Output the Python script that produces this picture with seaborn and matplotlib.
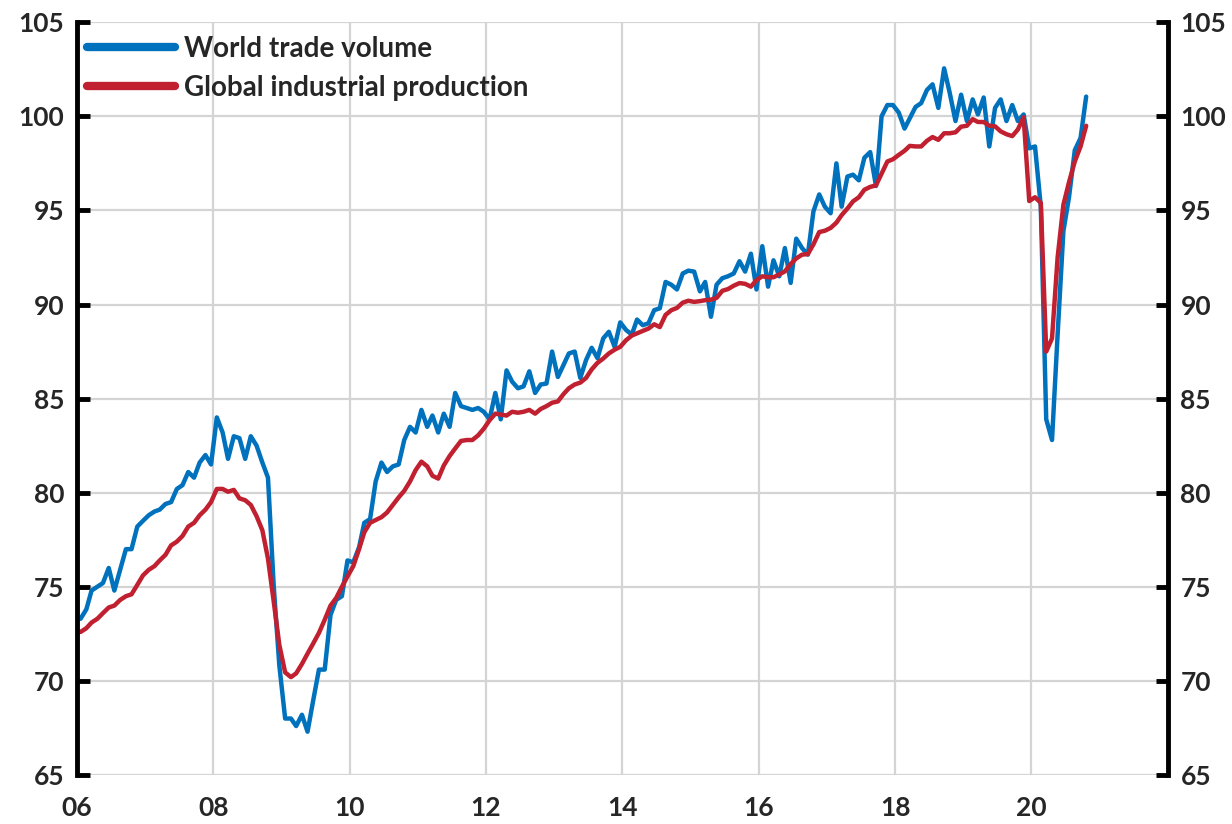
import pandas as pd
import matplotlib.pyplot as plt
import matplotlib.dates as mdates
from matplotlib.lines import Line2D
import seaborn as sns

# Monthly index levels, Jan 2006 - Oct 2020 (one row per year)
trade_volume = [
    73.3, 73.8, 74.8, 75.0, 75.2, 76.0, 74.8, 75.9, 77.0, 77.0, 78.2, 78.5,
    78.8, 79.0, 79.1, 79.4, 79.5, 80.2, 80.4, 81.1, 80.8, 81.6, 82.0, 81.5,
    84.0, 83.2, 81.8, 83.0, 82.9, 81.8, 83.0, 82.5, 81.6, 80.8, 75.0, 70.8,
    68.0, 68.0, 67.6, 68.2, 67.3, 69.0, 70.6, 70.6, 73.5, 74.3, 74.5, 76.4,
    76.3, 77.1, 78.4, 78.6, 80.6, 81.6, 81.1, 81.4, 81.5, 82.8, 83.5, 83.2,
    84.4, 83.5, 84.1, 83.2, 84.2, 83.5, 85.3, 84.6, 84.5, 84.4, 84.5, 84.3,
    83.9, 85.3, 83.9, 86.5, 85.9, 85.55, 85.65, 86.45, 85.3, 85.75, 85.8, 87.5,
    86.15, 86.8, 87.4, 87.5, 86.1, 87.05, 87.7, 87.15, 88.2, 88.55, 87.75, 89.05,
    88.65, 88.4, 89.2, 88.9, 89.0, 89.7, 89.8, 91.2, 91.05, 90.8, 91.65, 91.8,
    91.75, 90.7, 91.2, 89.35, 91.05, 91.4, 91.5, 91.65, 92.3, 91.75, 92.7, 90.8,
    93.1, 90.95, 92.35, 91.5, 93.0, 91.15, 93.5, 93.0, 92.65, 94.95, 95.85, 95.2,
    94.85, 97.5, 95.2, 96.8, 96.9, 96.6, 97.8, 98.1, 96.3, 100.0, 100.6, 100.6,
    100.2, 99.35, 99.9, 100.5, 100.7, 101.4, 101.7, 100.45, 102.55, 101.25, 99.75, 101.15,
    99.75, 100.9, 100.1, 101.0, 98.4, 100.45, 100.9, 99.75, 100.6, 99.75, 100.1, 98.3,
    98.4, 95.2, 83.9, 82.8, 88.4, 93.9, 95.7, 98.2, 98.85, 101.05,
]

industrial_production = [
    72.6, 72.8, 73.1, 73.3, 73.6, 73.9, 74.0, 74.3, 74.5, 74.6, 75.1, 75.6,
    75.9, 76.1, 76.4, 76.7, 77.2, 77.4, 77.7, 78.2, 78.4, 78.8, 79.1, 79.5,
    80.2, 80.2, 80.05, 80.15, 79.7, 79.6, 79.35, 78.75, 78.0, 76.5, 74.2, 71.9,
    70.45, 70.2, 70.4, 70.9, 71.45, 72.0, 72.55, 73.25, 74.0, 74.4, 75.0, 75.55,
    76.1, 77.0, 77.9, 78.4, 78.55, 78.7, 78.95, 79.35, 79.75, 80.1, 80.6, 81.2,
    81.65, 81.4, 80.9, 80.75, 81.45, 81.95, 82.35, 82.75, 82.8, 82.8, 83.05, 83.4,
    83.85, 84.2, 84.15, 84.1, 84.3, 84.25, 84.3, 84.4, 84.2, 84.45, 84.6, 84.78,
    84.85, 85.25, 85.55, 85.75, 85.85, 86.1, 86.55, 86.9, 87.13, 87.4, 87.6, 87.75,
    88.1, 88.35, 88.47, 88.6, 88.72, 88.95, 88.8, 89.45, 89.7, 89.82, 90.1, 90.2,
    90.14, 90.18, 90.23, 90.26, 90.35, 90.73, 90.82, 91.0, 91.14, 91.1, 90.95, 91.3,
    91.5, 91.45, 91.45, 91.6, 91.76, 92.15, 92.45, 92.65, 92.68, 93.2, 93.85, 93.92,
    94.07, 94.35, 94.75, 95.1, 95.48, 95.7, 96.1, 96.25, 96.33, 96.95, 97.6, 97.72,
    97.95, 98.17, 98.43, 98.4, 98.4, 98.7, 98.9, 98.75, 99.1, 99.1, 99.15, 99.45,
    99.5, 99.85, 99.7, 99.7, 99.5, 99.47, 99.2, 99.05, 98.95, 99.3, 99.95, 95.5,
    95.7, 95.4, 87.5, 88.2, 92.5, 95.3, 96.5, 97.6, 98.4, 99.5,
]

series_names = ["World trade volume", "Global industrial production"]
series_colors = ["#0071BC", "#C0202F"]
tick_years = [2006, 2008, 2010, 2012, 2014, 2016, 2018, 2020]
y_ticks = [65, 70, 75, 80, 85, 90, 95, 100, 105]

sns.set_theme(style="white")
plt.rcParams["font.family"] = ["Lato", "DejaVu Sans"]
plt.rcParams["font.weight"] = "bold"

# Monthly points, drawn a little past mid-month as in the original
dates = pd.date_range("2006-01-01", periods=len(trade_volume), freq="MS") + pd.Timedelta(days=19)
df = pd.DataFrame({
    "date": list(dates) * 2,
    "value": trade_volume + industrial_production,
    "series": [series_names[0]] * len(dates) + [series_names[1]] * len(dates),
})

fig = plt.figure(figsize=(12.32, 8.24), dpi=100)
ax = fig.add_axes([0.0625, 0.0595, 0.8855, 0.9135])

sns.lineplot(data=df, x="date", y="value", hue="series", hue_order=series_names,
             palette=series_colors, linewidth=3.2, legend=False, ax=ax, zorder=3)

# Axes limits and ticks
ax.set_xlim(pd.Timestamp("2006-01-01"), pd.Timestamp("2022-01-01"))
ax.set_ylim(65, 105)
ax.set_xticks([pd.Timestamp(f"{y}-01-01") for y in tick_years])
ax.xaxis.set_major_formatter(mdates.DateFormatter("%y"))
ax.set_yticks(y_ticks)
ax.set_xlabel("")
ax.set_ylabel("")

ax.grid(True, color="#D4D4D4", linewidth=1.6, zorder=0)
ax.set_axisbelow(True)

for side in ["top", "bottom"]:
    ax.spines[side].set_visible(False)
for side in ["left", "right"]:
    ax.spines[side].set_color("black")
    ax.spines[side].set_linewidth(3.5)
    ax.spines[side].set_zorder(5)

ax.yaxis.set_ticks_position("both")
ax.tick_params(axis="y", which="both", direction="in", length=9, width=3.5,
               color="black", labelleft=True, labelright=True,
               labelsize=19, pad=9)
ax.tick_params(axis="x", direction="out", length=5, width=1.6,
               color="#D4D4D4", labelsize=19, pad=10)
for lbl in ax.get_xticklabels() + ax.yaxis.get_ticklabels(which="both"):
    lbl.set_fontweight("bold")

# Legend with thicker handles
handles = [Line2D([0], [0], color=c, linewidth=6) for c in series_colors]
ax.legend(handles, series_names, loc="upper left", bbox_to_anchor=(-0.004, 1.0),
          frameon=False, borderaxespad=0.0, borderpad=0.5,
          handlelength=3.2, handletextpad=0.3, labelspacing=0.45,
          prop={"weight": "bold", "size": 20})

fig.savefig("out.png", dpi=100)
